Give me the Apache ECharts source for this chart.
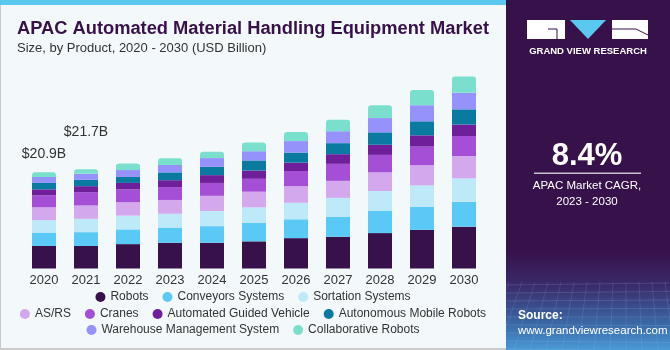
<!DOCTYPE html>
<html><head><meta charset="utf-8">
<script src="https://cdn.jsdelivr.net/npm/echarts@6/dist/echarts.min.js"></script>
<style>
html,body{margin:0;padding:0;width:670px;height:350px;overflow:hidden;background:#fff;}
#chart{position:absolute;left:0;top:0;width:506px;height:350px;}
#side{position:absolute;left:506px;top:0;width:164px;height:350px;}
</style></head><body>
<div id="chart"></div><div id="side"></div>
<script>
const years = ['2020','2021','2022','2023','2024','2025','2026','2027','2028','2029','2030'];
const robots    = [4.9,4.9,5.3,5.6,5.6,5.9,6.6,6.9,7.7,8.4,9.1];
const conveyors = [2.9,3.0,3.2,3.3,3.6,4.0,4.1,4.35,4.8,5.0,5.4];
const sortation = [2.7,2.9,3.0,3.0,3.3,3.4,3.6,4.1,4.35,4.65,5.1];
const asrs      = [2.8,2.9,2.9,3.0,3.3,3.4,3.6,3.7,4.05,4.4,4.85];
const cranes    = [2.6,2.9,2.8,2.8,2.8,2.8,3.3,3.7,3.8,4.05,4.35];
const agv       = [1.3,1.3,1.4,1.5,1.7,1.8,1.8,2.1,2.2,2.45,2.5];
const amr       = [1.4,1.4,1.3,1.7,1.8,2.2,2.2,2.4,2.7,3.05,3.3];
const wms       = [1.3,1.3,1.5,1.6,1.9,2.0,2.5,2.6,3.1,3.5,3.6];
const collab    = [1.0,1.0,1.4,1.45,1.4,1.9,2.0,2.5,2.8,3.3,3.55];
const totalLabels = ['$20.9B','$21.7B','','','','','','','','',''];
const seriesNames = ['Robots','Conveyors Systems','Sortation Systems','AS/RS','Cranes','Automated Guided Vehicle','Autonomous Mobile Robots','Warehouse Management System','Collaborative Robots'];
const seriesData = [robots,conveyors,sortation,asrs,cranes,agv,amr,wms,collab];
const colors = ['#371149','#5bc9f5','#bde9f9','#d4a8ec','#a44fd6','#6f1f9a','#0b7aa0','#9692fb','#7ae0cd'];
const labelOffsets = [[0,-6],[0,-25]];

const FONT = '"Liberation Sans", Arial, sans-serif';
const chart = echarts.init(document.getElementById('chart'), null, {renderer:'canvas'});

const series = seriesData.map((d,i)=>{
  const s = {
    name: seriesNames[i], type:'bar', stack:'total', barWidth:24,
    itemStyle:{color:colors[i]},
    emphasis:{disabled:true},
    data: d.slice()
  };
  if (i === seriesData.length-1) {
    s.itemStyle.borderRadius = [3,3,0,0];
    s.data = d.map((v,k)=>{
      const item = {value:v};
      if (totalLabels[k]) {
        item.label = {show:true, position:'top', formatter: totalLabels[k], offset: labelOffsets[k],
          fontSize:14, color:'#333', fontFamily:FONT};
      }
      return item;
    });
  }
  return s;
});

const legendBase = {icon:'circle', itemWidth:10, itemHeight:10, itemGap:14, width:500,
  textStyle:{fontSize:12, color:'#333', fontFamily:FONT}, left:'center', selectedMode:false, padding:0};

chart.setOption({
  backgroundColor:'#f3f8fb',
  animation:false,
  color: colors,
  title:[{text:'APAC Automated Material Handling Equipment Market', left:17, top:20, padding:0,
          textStyle:{fontSize:18.3, fontWeight:'bold', color:'#371149', fontFamily:FONT}},
         {text:'Size, by Product, 2020 - 2030 (USD Billion)', left:17, top:42, padding:0,
          textStyle:{fontSize:13, fontWeight:'normal', color:'#333', fontFamily:FONT}}],
  graphic:[
    {type:'rect', shape:{x:0,y:0,width:506,height:5}, style:{fill:'#5bc8f0'}},
    {type:'rect', shape:{x:0,y:5,width:1,height:345}, style:{fill:'#c9c9c9'}},
    {type:'rect', shape:{x:0,y:348,width:506,height:2}, style:{fill:'#c9c9c9'}}
  ],
  legend:[
    Object.assign({}, legendBase, {top:291, data:seriesNames.slice(0,3)}),
    Object.assign({}, legendBase, {top:308, data:seriesNames.slice(3,7)}),
    Object.assign({}, legendBase, {top:324, data:seriesNames.slice(7,9)})
  ],
  grid:{left:23, right:21, top:61.5, bottom:81.5, containLabel:false},
  xAxis:{type:'category', data:years, axisLine:{show:false}, axisTick:{show:false},
    axisLabel:{fontSize:13, color:'#333', margin:5, fontFamily:FONT}},
  yAxis:{type:'value', min:0, max:45, show:false, splitLine:{show:false}},
  series: series
});

const side = echarts.init(document.getElementById('side'), null, {renderer:'canvas'});
const ox = 506;
const g = [];
g.push({type:'rect', shape:{x:0,y:0,width:164,height:350}, style:{fill:'#371149'}});
g.push({type:'rect', shape:{x:0,y:250,width:164,height:100}, style:{fill:{type:'linear',x:0,y:0,x2:0,y2:1,
  colorStops:[{offset:0,color:'#371149'},{offset:0.35,color:'#3b2a6a'},{offset:0.75,color:'#3b6aa8'},{offset:1,color:'#4a9ad6'}]}}});
for (let i=0;i<9;i++){
  g.push({type:'line', shape:{x1:0,y1:285+i*8,x2:164,y2:283+i*8.5}, style:{stroke:'rgba(160,200,240,0.18)',lineWidth:1}});
}
for (let i=0;i<14;i++){
  g.push({type:'line', shape:{x1:-40+i*16,y1:350,x2:-10+i*13,y2:282}, style:{stroke:'rgba(160,200,240,0.15)',lineWidth:1}});
}
g.push({type:'rect', shape:{x:527-ox,y:20,width:38,height:19}, style:{fill:'#fff'}});
g.push({type:'polyline', shape:{points:[[548-ox,29],[557-ox,29],[557-ox,39]]}, style:{stroke:'#371149',lineWidth:1,fill:null}});
g.push({type:'polygon', shape:{points:[[570-ox,20],[606-ox,20],[588-ox,39]]}, style:{fill:'#5bc8f0'}});
g.push({type:'rect', shape:{x:612-ox,y:20,width:36,height:19}, style:{fill:'#fff'}});
g.push({type:'line', shape:{x1:636-ox,y1:29,x2:648-ox,y2:35}, style:{stroke:'#371149',lineWidth:1}});
g.push({type:'line', shape:{x1:612-ox,y1:29,x2:636-ox,y2:29}, style:{stroke:'#371149',lineWidth:1}});
g.push({type:'text', x:588-ox, y:51, style:{text:'GRAND VIEW RESEARCH', fill:'#fff', font:'bold 9.5px '+FONT, textAlign:'center', textVerticalAlign:'middle'}});
g.push({type:'text', x:587-ox, y:156, style:{text:'8.4%', fill:'#fff', font:'bold 31px '+FONT, textAlign:'center', textVerticalAlign:'middle'}});
g.push({type:'rect', shape:{x:534-ox,y:172.5,width:107,height:1.5}, style:{fill:'#c8c0d0'}});
g.push({type:'text', x:587-ox, y:186, style:{text:'APAC Market CAGR,', fill:'#fff', font:'11.5px '+FONT, textAlign:'center', textVerticalAlign:'middle'}});
g.push({type:'text', x:587-ox, y:202, style:{text:'2023 - 2030', fill:'#fff', font:'11.5px '+FONT, textAlign:'center', textVerticalAlign:'middle'}});
g.push({type:'text', x:518-ox, y:316, style:{text:'Source:', fill:'#fff', font:'bold 12px '+FONT, textAlign:'left', textVerticalAlign:'middle'}});
g.push({type:'text', x:518-ox, y:331, style:{text:'www.grandviewresearch.com', fill:'#fff', font:'11.5px '+FONT, textAlign:'left', textVerticalAlign:'middle'}});
side.setOption({animation:false, graphic:g});
</script></body></html>
